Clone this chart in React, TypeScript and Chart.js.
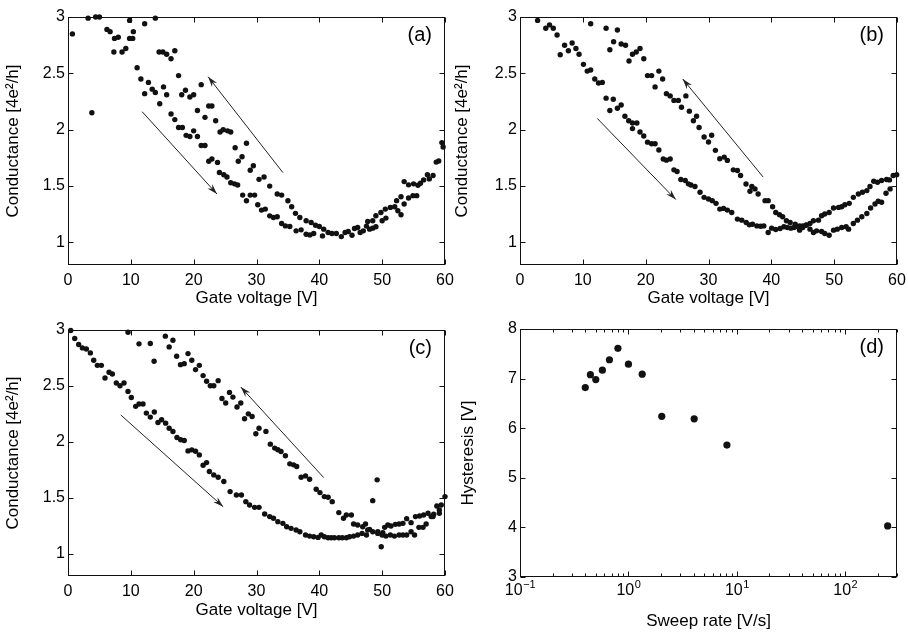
import React, { useEffect, useRef } from "react";
import { Chart, registerables } from "chart.js";
Chart.register(...registerables);

const FONT = "'Liberation Sans', Arial, Helvetica, sans-serif";

// ---------- axis ticks ----------
const gateTicks = [0, 10, 20, 30, 40, 50, 60];
const condTicks = [1, 1.5, 2, 2.5, 3];
const hystTicks = [3, 4, 5, 6, 7, 8];
const rateTicks = [0.1, 1, 10, 100];
const rateExponents = ["\u22121", "0", "1", "2"];
const panelLabels = ["(a)", "(b)", "(c)", "(d)"];

// ---------- panel (a) ----------
const aGate = [
  0.7, 3.2, 4.4, 5.0, 3.8, 6.2, 6.7, 7.3, 7.4, 8.0, 8.6, 9.2, 9.8, 9.8, 10.3, 10.4, 11.0, 11.6, 12.2, 12.2,
  12.8, 13.4, 13.9, 13.9, 14.5, 15.1, 15.7, 14.6, 15.2, 15.7, 16.4, 17.0, 16.4, 17.0, 17.6, 17.6, 18.2, 18.1, 18.7, 18.8,
  19.4, 19.4, 20.0, 20.0, 20.6, 20.6, 21.2, 21.2, 21.8, 21.8, 22.4, 22.9, 22.9, 23.5, 24.2, 24.7, 25.4, 25.9, 26.6, 27.7,
  28.4, 22.4, 23.8, 24.1, 24.8, 25.3, 25.9, 26.5, 27.0, 27.1, 29.0, 29.5, 30.4, 31.2, 32.1, 27.8, 28.4, 29.0, 29.7, 33.3,
  34.0, 35.0, 30.2, 30.8, 31.4, 35.6, 32.1, 32.7, 33.3, 36.2, 36.9, 37.9, 38.7, 34.0, 34.6, 35.3, 39.4, 40.0, 36.3, 37.1,
  37.9, 38.5, 39.1, 40.7, 40.5, 41.4, 42.0, 42.7, 43.5, 44.1, 44.6, 45.2, 45.6, 46.1, 46.5, 47.0, 47.5, 48.0, 48.5, 49.0,
  47.7, 48.5, 49.0, 49.8, 50.5, 50.0, 50.6, 51.3, 52.0, 52.5, 53.0, 52.3, 53.0, 53.5, 54.2, 54.9, 55.5, 53.5, 54.2, 55.0,
  55.7, 56.1, 56.6, 57.2, 57.5, 58.1, 58.6, 59.0, 59.5, 59.7,
];
const aCond = [
  2.85, 2.99, 3.0, 3.0, 2.15, 2.89, 2.87, 2.69, 2.81, 2.82, 2.69, 2.72, 2.97, 2.81, 2.81, 2.87, 2.55, 2.45, 2.94, 2.32,
  2.42, 2.36, 2.33, 2.99, 2.69, 2.69, 2.67, 2.23, 2.38, 2.31, 2.63, 2.7, 2.14, 2.09, 2.48, 2.02, 2.02, 2.31, 2.35, 1.95,
  1.94, 2.29, 2.31, 1.99, 1.94, 2.17, 2.4, 1.86, 1.86, 2.11, 2.21, 2.21, 1.74, 2.08, 1.98, 2.0, 1.99, 1.98, 1.84, 1.76,
  1.88, 1.72, 1.71, 1.62, 1.6, 1.58, 1.53, 1.52, 1.51, 1.72, 1.64, 1.68, 1.56, 1.58, 1.5, 1.42, 1.37, 1.42, 1.42, 1.43,
  1.42, 1.37, 1.335, 1.287, 1.296, 1.317, 1.236, 1.222, 1.228, 1.258, 1.222, 1.192, 1.177, 1.168, 1.147, 1.142, 1.153, 1.142, 1.103, 1.112,
  1.073, 1.067, 1.079, 1.118, 1.058, 1.088, 1.079, 1.079, 1.052, 1.088, 1.097, 1.064, 1.124, 1.133, 1.088, 1.103, 1.145, 1.118, 1.127, 1.139,
  1.186, 1.192, 1.237, 1.266, 1.296, 1.192, 1.216, 1.311, 1.317, 1.281, 1.246, 1.371, 1.406, 1.341, 1.394, 1.415, 1.415, 1.54, 1.511, 1.52,
  1.508, 1.525, 1.555, 1.6, 1.564, 1.594, 1.713, 1.722, 1.886, 1.847,
];
const aArrows = [
  [11.8, 2.16, 23.7, 1.43],
  [34.2, 1.62, 22.3, 2.47],
];

// ---------- panel (b) ----------
const bGate = [
  2.8, 4.1, 4.7, 5.3, 5.9, 6.4, 7.1, 7.7, 8.3, 8.9, 9.4, 10.1, 10.7, 11.25, 11.25, 11.9, 12.5, 13.1, 13.7, 13.7,
  14.3, 14.85, 14.9, 14.3, 15.5, 15.5, 16.1, 16.1, 16.8, 16.7, 17.35, 17.3, 17.9, 17.9, 18.5, 19.1, 17.9, 18.6, 19.1, 19.7,
  19.7, 20.3, 20.95, 20.3, 20.95, 21.5, 21.5, 22.1, 22.1, 22.7, 23.3, 23.9, 24.5, 25.2, 22.8, 23.9, 25.7, 26.4, 26.95, 27.6,
  28.1, 28.5, 23.3, 24.5, 25.0, 25.6, 26.3, 26.8, 29.3, 30.0, 30.5, 31.1, 31.8, 32.5, 33.0, 33.95, 34.6, 35.1, 35.97, 36.9,
  37.4, 36.6, 37.9, 39.0, 39.5, 40.2, 40.7, 41.3, 41.8, 42.4, 43.0, 43.8, 44.5, 45.0, 45.6, 46.15, 46.7, 47.5, 48.0, 48.5,
  49.2, 49.9, 50.7, 51.2, 51.7, 52.4, 53.05, 53.85, 54.5, 55.2, 55.7, 56.3, 56.9, 57.55, 58.35, 58.8, 59.4, 59.95,
  27.2, 27.85, 28.65, 29.3, 30.0, 30.6, 31.2, 31.8, 32.4, 33.0, 33.7, 34.6, 35.3, 36.0, 36.5, 37.0, 37.7, 38.3, 38.8, 39.5,
  40.05, 40.7, 41.4, 42.0, 42.55, 43.1, 43.6, 44.0, 44.5, 45.0, 45.5, 46.15, 46.7, 47.2, 48.0, 48.5, 49.2, 49.9, 50.5, 51.2,
  51.9, 52.3, 53.05, 53.7, 54.4, 55.2, 55.8, 56.5, 57.0, 57.55, 58.25, 58.9,
];
const bCond = [
  2.97, 2.9, 2.93, 2.9, 2.84, 2.665, 2.75, 2.7, 2.77, 2.72, 2.67, 2.58, 2.52, 2.53, 2.94, 2.45, 2.415, 2.42, 2.9, 2.28,
  2.17, 2.27, 2.78, 2.71, 2.885, 2.19, 2.22, 2.76, 2.75, 2.12, 2.61, 2.08, 2.06, 2.67, 2.69, 2.72, 2.01, 2.06, 1.98, 2.63,
  1.945, 2.48, 2.48, 1.89, 1.876, 1.876, 2.38, 2.52, 1.82, 2.45, 2.32, 2.3, 2.26, 2.26, 1.74, 1.74, 2.2, 2.3, 2.165, 2.08,
  2.12, 2.02, 1.73, 1.644, 1.63, 1.558, 1.549, 1.52, 1.936, 1.891, 1.951, 1.817, 1.743, 1.757, 1.728, 1.644, 1.638, 1.594, 1.519, 1.496,
  1.475, 1.454, 1.43, 1.371, 1.371, 1.317, 1.266, 1.246, 1.228, 1.192, 1.177, 1.162, 1.147, 1.133, 1.156, 1.168, 1.192, 1.198, 1.237, 1.252,
  1.266, 1.305, 1.311, 1.317, 1.335, 1.347, 1.4, 1.43, 1.445, 1.46, 1.496, 1.543, 1.534, 1.549, 1.558, 1.555, 1.594, 1.6,
  1.51, 1.496, 1.445, 1.4, 1.385, 1.371, 1.347, 1.296, 1.302, 1.287, 1.266, 1.207, 1.198, 1.177, 1.156, 1.162, 1.147, 1.144, 1.147, 1.088,
  1.127, 1.115, 1.124, 1.139, 1.133, 1.127, 1.133, 1.141, 1.109, 1.147, 1.153, 1.118, 1.088, 1.103, 1.097, 1.079, 1.064, 1.109, 1.118, 1.133,
  1.139, 1.118, 1.168, 1.198, 1.228, 1.257, 1.305, 1.341, 1.365, 1.356, 1.436, 1.475,
];
const bArrows = [
  [12.3, 2.1, 24.8, 1.38],
  [38.7, 1.58, 25.9, 2.45],
];

// ---------- panel (c) ----------
const cGate = [
  0.43, 1.07, 1.7, 2.29, 2.92, 3.56, 4.09, 4.67, 5.31, 5.89, 6.53, 7.06, 7.69, 8.28, 8.91, 9.55, 9.55, 10.08, 10.77, 11.3,
  11.94, 11.3, 12.47, 13.1, 13.1, 13.7, 13.74, 14.32, 14.9, 15.49, 15.54, 16.1, 16.7, 16.1, 16.7, 17.29, 17.9, 18.5, 17.34, 17.93,
  18.5, 19.1, 19.7, 20.3, 20.9, 19.1, 19.7, 20.3, 20.9, 21.5, 22.06, 22.65, 23.2, 23.9, 21.5, 22.06, 24.5, 25.1, 25.7, 26.25,
  26.9, 27.5, 28.1, 28.7, 29.3, 29.9, 30.4, 31.5, 32.2, 32.9, 33.4, 33.9, 34.6, 35.3, 35.9, 36.4, 37.1, 37.8, 38.45, 39.5,
  40.1, 40.8, 41.4, 42.05, 43.1, 43.85, 44.3, 45.1, 45.45, 46.1, 46.9, 47.35, 48.5, 49.2, 47.7, 48.5, 49.3, 50.1, 49.85, 50.4,
  50.9, 51.4, 52.1, 52.7, 53.3, 53.9, 54.6, 55.3, 55.95, 56.6, 57.3, 57.8, 58.2, 58.7, 59.4, 59.1, 60.0,
  22.5, 23.2, 23.9, 24.8, 25.8, 26.8, 27.6, 28.3, 28.9, 29.7, 30.4, 31.3, 32.1, 32.7, 33.4, 34.2, 34.8, 35.5, 36.3, 36.9,
  37.8, 38.45, 39.1, 39.8, 40.3, 40.8, 41.4, 41.9, 42.4, 43.1, 43.65, 44.3, 44.8, 45.45, 46.1, 46.8, 47.5, 48.0, 49.3, 50.0,
  50.6, 51.3, 51.95, 52.7, 53.3, 53.9, 54.6, 55.15, 55.85, 56.5, 57.0, 58.1, 59.1,
];
const cCond = [
  2.995, 2.924, 2.87, 2.84, 2.83, 2.795, 2.729, 2.684, 2.684, 2.571, 2.622, 2.607, 2.526, 2.502, 2.526, 2.98, 2.451, 2.397, 2.317, 2.338,
  2.338, 2.876, 2.257, 2.221, 2.879, 2.72, 2.266, 2.173, 2.197, 2.945, 2.167, 2.849, 2.909, 2.122, 2.092, 2.765, 2.69, 2.699, 2.039, 2.018,
  2.012, 2.789, 2.729, 2.646, 2.684, 1.919, 1.928, 1.916, 1.883, 2.592, 2.541, 2.502, 2.502, 2.547, 1.791, 1.814, 2.388, 2.347, 2.442, 2.4,
  2.311, 2.347, 2.206, 2.25, 2.227, 2.072, 2.122, 2.093, 1.979, 1.944, 1.929, 1.914, 1.875, 1.803, 1.794, 1.779, 1.683, 1.695, 1.665, 1.576,
  1.546, 1.51, 1.504, 1.465, 1.367, 1.316, 1.346, 1.346, 1.265, 1.256, 1.241, 1.265, 1.474, 1.66, 1.211, 1.196, 1.196, 1.187, 1.062, 1.235,
  1.256, 1.247, 1.262, 1.265, 1.271, 1.313, 1.277, 1.331, 1.337, 1.346, 1.361, 1.331, 1.352, 1.426, 1.435, 1.39, 1.51,
  1.734, 1.704, 1.683, 1.645, 1.555, 1.525, 1.525, 1.465, 1.435, 1.414, 1.414, 1.355, 1.331, 1.316, 1.286, 1.271, 1.241, 1.226, 1.211, 1.196,
  1.166, 1.157, 1.151, 1.145, 1.166, 1.151, 1.142, 1.142, 1.142, 1.142, 1.142, 1.142, 1.151, 1.157, 1.166, 1.181, 1.166, 1.217, 1.181, 1.166,
  1.157, 1.166, 1.157, 1.166, 1.166, 1.166, 1.196, 1.166, 1.235, 1.235, 1.265, 1.331, 1.361,
];
const cArrows = [
  [8.4, 2.24, 24.7, 1.42],
  [40.7, 1.68, 27.5, 2.49],
];

// ---------- panel (d) ----------
const dRate = [0.4, 0.446, 0.5, 0.575, 0.668, 0.8, 1.0, 1.34, 2.03, 4.04, 8.1, 246];
const dHyst = [6.82, 7.08, 6.98, 7.17, 7.38, 7.61, 7.29, 7.09, 6.24, 6.19, 5.66, 4.03];

type Spec = {
  left: number; top: number; w: number; h: number;
  padTop: number; padRight: number; yAxisW: number; xAxisH: number;
  xTitlePad: number; yTitlePad: number;
  xs: number[]; ys: number[]; log: boolean;
  xMin: number; xMax: number; yMin: number; yMax: number;
  xTicks: number[]; yTicks: number[];
  xTitle: string; yTitle: string; label: string;
  arrows: number[][]; radius: number;
};

const TICK_SIZE = 16;
const TITLE_SIZE = 17;
const INK = "#111";

function framePlugin(spec: Spec) {
  return {
    id: "frame",
    afterDatasetsDraw(chart: any) {
      const { ctx, chartArea: a } = chart;
      const xs = chart.scales.x;
      const ys = chart.scales.y;
      ctx.save();
      // arrows
      ctx.strokeStyle = "#222";
      ctx.fillStyle = "#222";
      ctx.lineWidth = 1;
      for (const ar of spec.arrows) {
        const x1 = xs.getPixelForValue(ar[0]);
        const y1 = ys.getPixelForValue(ar[1]);
        const x2 = xs.getPixelForValue(ar[2]);
        const y2 = ys.getPixelForValue(ar[3]);
        ctx.beginPath();
        ctx.moveTo(x1, y1);
        ctx.lineTo(x2, y2);
        ctx.stroke();
        const ang = Math.atan2(y2 - y1, x2 - x1);
        const L = 11, W = 0.3;
        ctx.beginPath();
        ctx.moveTo(x2, y2);
        ctx.lineTo(x2 - L * Math.cos(ang - W), y2 - L * Math.sin(ang - W));
        ctx.lineTo(x2 - 7 * Math.cos(ang), y2 - 7 * Math.sin(ang));
        ctx.lineTo(x2 - L * Math.cos(ang + W), y2 - L * Math.sin(ang + W));
        ctx.closePath();
        ctx.fill();
      }
      // box
      ctx.strokeStyle = INK;
      ctx.lineWidth = 1;
      const L0 = Math.round(a.left) + 0.5, R0 = Math.round(a.right) - 0.5;
      const T0 = Math.round(a.top) + 0.5, B0 = Math.round(a.bottom) - 0.5;
      ctx.strokeRect(L0, T0, R0 - L0, B0 - T0);
      ctx.beginPath();
      const major = 5;
      for (const v of spec.xTicks) {
        const p = Math.round(xs.getPixelForValue(v)) + 0.5;
        ctx.moveTo(p, B0); ctx.lineTo(p, B0 - major);
        ctx.moveTo(p, T0); ctx.lineTo(p, T0 + major);
      }
      for (const v of spec.yTicks) {
        const p = Math.round(ys.getPixelForValue(v)) + 0.5;
        ctx.moveTo(L0, p); ctx.lineTo(L0 + major, p);
        ctx.moveTo(R0, p); ctx.lineTo(R0 - major, p);
      }
      if (spec.log) {
        for (const d of spec.xTicks) {
          for (let k = 2; k <= 9; k++) {
            const v = k * d;
            if (v > spec.xMax) continue;
            const p = Math.round(xs.getPixelForValue(v)) + 0.5;
            ctx.moveTo(p, B0); ctx.lineTo(p, B0 - 3);
            ctx.moveTo(p, T0); ctx.lineTo(p, T0 + 3);
          }
        }
      }
      ctx.stroke();
      // log tick labels with superscript exponents
      ctx.fillStyle = "#000";
      if (spec.log) {
        spec.xTicks.forEach((v, i) => {
          const p = xs.getPixelForValue(v);
          ctx.font = `${TICK_SIZE}px ${FONT}`;
          const w1 = ctx.measureText("10").width;
          ctx.font = `${Math.round(TICK_SIZE * 0.7)}px ${FONT}`;
          const w2 = ctx.measureText(rateExponents[i]).width;
          const start = p - (w1 + w2) / 2;
          const base = a.bottom + 18;
          ctx.textAlign = "left";
          ctx.textBaseline = "alphabetic";
          ctx.font = `${TICK_SIZE}px ${FONT}`;
          ctx.fillText("10", start, base);
          ctx.font = `${Math.round(TICK_SIZE * 0.7)}px ${FONT}`;
          ctx.fillText(rateExponents[i], start + w1 + 0.5, base - 7);
        });
      }
      // panel label
      ctx.font = `20px ${FONT}`;
      ctx.textAlign = "right";
      ctx.textBaseline = "middle";
      ctx.fillText(spec.label, a.right - 13, a.top + 18);
      ctx.restore();
    },
  };
}

function buildConfig(spec: Spec): any {
  const points = spec.xs.map((x, i) => ({ x, y: spec.ys[i] }));
  return {
    type: "scatter",
    data: {
      datasets: [
        {
          data: points,
          pointRadius: spec.radius,
          pointHoverRadius: spec.radius,
          pointBackgroundColor: INK,
          pointBorderWidth: 0,
          showLine: false,
          clip: 6,
        },
      ],
    },
    options: {
      responsive: false,
      animation: false,
      devicePixelRatio: 1,
      events: [],
      layout: { padding: { top: spec.padTop, right: spec.padRight, left: 0, bottom: 0 } },
      plugins: { legend: { display: false }, tooltip: { enabled: false } },
      scales: {
        x: {
          type: spec.log ? "logarithmic" : "linear",
          min: spec.xMin,
          max: spec.xMax,
          afterBuildTicks: (s: any) => {
            s.ticks = spec.xTicks.map((v) => ({ value: v }));
          },
          afterFit: (s: any) => {
            s.height = spec.xAxisH;
            s.paddingLeft = 0;
            s.paddingRight = 0;
          },
          ticks: {
            display: !spec.log,
            autoSkip: false,
            maxRotation: 0,
            padding: 6,
            color: "#000",
            font: { family: FONT, size: TICK_SIZE },
            callback: (v: any) => String(v),
          },
          grid: { display: false, drawTicks: false },
          border: { display: false },
          title: {
            display: true,
            text: spec.xTitle,
            color: "#000",
            font: { family: FONT, size: TITLE_SIZE },
            padding: { top: 0, bottom: spec.xTitlePad },
          },
        },
        y: {
          type: "linear",
          min: spec.yMin,
          max: spec.yMax,
          afterBuildTicks: (s: any) => {
            s.ticks = spec.yTicks.map((v) => ({ value: v }));
          },
          afterFit: (s: any) => {
            s.width = spec.yAxisW;
            s.paddingTop = 0;
            s.paddingBottom = 0;
          },
          ticks: {
            padding: 3,
            color: "#000",
            font: { family: FONT, size: TICK_SIZE },
            callback: (v: any) => String(v),
          },
          grid: { display: false, drawTicks: false },
          border: { display: false },
          title: {
            display: true,
            text: spec.yTitle,
            color: "#000",
            font: { family: FONT, size: TITLE_SIZE },
            padding: { top: spec.yTitlePad, bottom: 0 },
          },
        },
      },
    },
    plugins: [framePlugin(spec)],
  };
}

const COND_TITLE = "Conductance [4e\u00B2/h]";
const GATE_TITLE = "Gate voltage [V]";

const specs: Spec[] = [
  {
    left: 0, top: 0, w: 454, h: 318, padTop: 17, padRight: 9, yAxisW: 68, xAxisH: 53,
    xTitlePad: 9, yTitlePad: 3, xs: aGate, ys: aCond, log: false,
    xMin: 0, xMax: 60, yMin: 0.8, yMax: 3, xTicks: gateTicks, yTicks: condTicks,
    xTitle: GATE_TITLE, yTitle: COND_TITLE, label: panelLabels[0], arrows: aArrows, radius: 2.7,
  },
  {
    left: 449, top: 0, w: 459, h: 318, padTop: 17, padRight: 11, yAxisW: 71, xAxisH: 53,
    xTitlePad: 9, yTitlePad: 3, xs: bGate, ys: bCond, log: false,
    xMin: 0, xMax: 60, yMin: 0.8, yMax: 3, xTicks: gateTicks, yTicks: condTicks,
    xTitle: GATE_TITLE, yTitle: COND_TITLE, label: panelLabels[1], arrows: bArrows, radius: 2.7,
  },
  {
    left: 0, top: 318, w: 454, h: 317, padTop: 12, padRight: 9, yAxisW: 68, xAxisH: 59,
    xTitlePad: 14, yTitlePad: 3, xs: cGate, ys: cCond, log: false,
    xMin: 0, xMax: 60, yMin: 0.8, yMax: 3, xTicks: gateTicks, yTicks: condTicks,
    xTitle: GATE_TITLE, yTitle: COND_TITLE, label: panelLabels[2], arrows: cArrows, radius: 2.7,
  },
  {
    left: 449, top: 318, w: 459, h: 317, padTop: 11, padRight: 11, yAxisW: 71, xAxisH: 58,
    xTitlePad: 3, yTitlePad: 9, xs: dRate, ys: dHyst, log: true,
    xMin: 0.1, xMax: 300, yMin: 3, yMax: 8, xTicks: rateTicks, yTicks: hystTicks,
    xTitle: "Sweep rate [V/s]", yTitle: "Hysteresis [V]", label: panelLabels[3], arrows: [], radius: 3.6,
  },
];

function Panel({ spec }: { spec: Spec }) {
  const ref = useRef<HTMLCanvasElement>(null);
  useEffect(() => {
    const chart = new Chart(ref.current as HTMLCanvasElement, buildConfig(spec));
    return () => chart.destroy();
  }, [spec]);
  return (
    <canvas
      ref={ref}
      width={spec.w}
      height={spec.h}
      style={{ position: "absolute", left: spec.left, top: spec.top, width: spec.w, height: spec.h }}
    />
  );
}

export default function App() {
  return (
    <div style={{ position: "absolute", left: 0, top: 0, width: 908, height: 635, background: "#fff", overflow: "hidden" }}>
      {specs.map((s, i) => (
        <Panel key={i} spec={s} />
      ))}
    </div>
  );
}
